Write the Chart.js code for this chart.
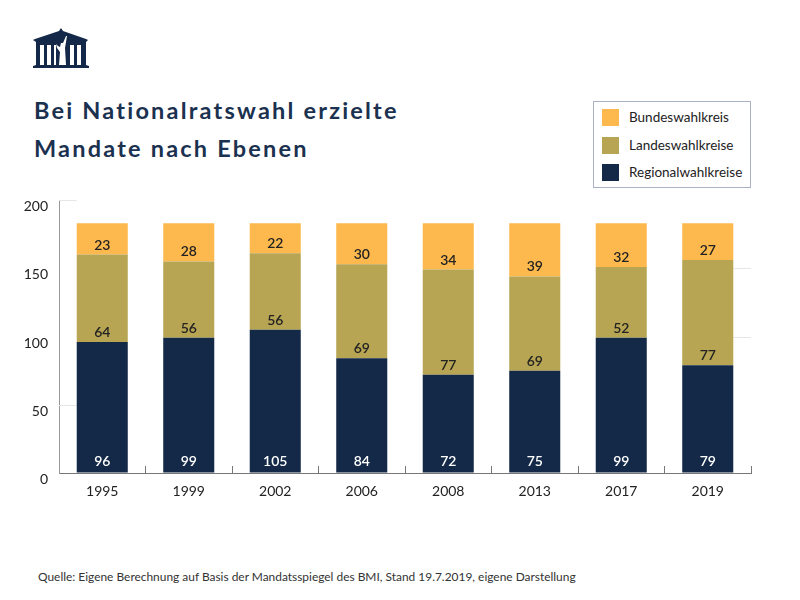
<!DOCTYPE html>
<html>
<head>
<meta charset="utf-8">
<script src="https://cdn.jsdelivr.net/npm/chart.js@4"></script>
<style>
  html, body { margin: 0; padding: 0; background: #fff; }
  body { position: relative; width: 800px; height: 600px; overflow: hidden; font-family: Lato, sans-serif; }
  #chart { position: absolute; left: 0; top: 0; }
  #logo { position: absolute; left: 33px; top: 28px; }
  #title {
    position: absolute; left: 34px; top: 91px; margin: 0;
    font-size: 23.5px; font-weight: 700; line-height: 38px; letter-spacing: 2.2px; color: #1b3150;
  }
  #legend {
    position: absolute; left: 593px; top: 101px; width: 156px; height: 85px;
    border: 1px solid #a9b2c6; background: #fff;
  }
  .item { position: absolute; left: 8px; height: 17px; font-size: 13.5px; line-height: 17px; color: #222; white-space: nowrap; }
  .item i { position: absolute; left: 0; top: 0; width: 17px; height: 17px; }
  .item span { position: absolute; left: 27px; top: 0; }
  #source { position: absolute; left: 38px; top: 569px; font-size: 11.93px; color: #333; }
</style>
</head>
<body>
<svg id="logo" width="56" height="41" viewBox="0 0 56 41">
  <path fill="#14294a" d="M28 0 L30 3 L53 11 L55 12 L53 14 L53 37 L56 38 L56 40 L0 40 L0 38 L3 37 L3 14 L0 12 L2 11 L26 3 Z"/>
  <path fill="#fff" d="M7 17h4v20h-4z M14 17h4v20h-4z M21 17h2v20h-2z M37 17h4v20h-4z M44 17h4v20h-4z"/>
  <path fill="#fff" d="M26 37 L27 24 L24 20 L23 16 L25 18 L27 19 L28 15 L30 15 L33 8 L34 8 L32 20 L33 37 Z"/>
</svg>
<h1 id="title">Bei Nationalratswahl erzielte<br>Mandate nach Ebenen</h1>
<div id="legend"></div>
<div id="source">Quelle: Eigene Berechnung auf Basis der Mandatsspiegel des BMI, Stand 19.7.2019, eigene Darstellung</div>
<canvas id="chart" width="800" height="600"></canvas>
<script>
const years = ["1995", "1999", "2002", "2006", "2008", "2013", "2017", "2019"];
const regional = [96, 99, 105, 84, 72, 75, 99, 79];
const landes = [64, 56, 56, 69, 77, 69, 52, 77];
const bundes = [23, 28, 22, 30, 34, 39, 32, 27];
const seriesNames = ["Regionalwahlkreise", "Landeswahlkreise", "Bundeswahlkreis"];
const seriesColors = ["#132947", "#b7a553", "#fdb94d"];
const labelColors = ["#ffffff", "#222222", "#222222"];
const labelOffsets = [11, 9.5, 9.5];
// the original only shows its grid lines in these two gaps
const leftGapGrid = [200, 50];
const rightGapGrid = [150, 100];

const partialGrid = {
  id: "partialGrid",
  beforeDatasetsDraw(chart) {
    const ctx = chart.ctx;
    const area = chart.chartArea;
    const yScale = chart.scales.y;
    const bars = chart.getDatasetMeta(0).data;
    const first = bars[0];
    const last = bars[bars.length - 1];
    const hline = (value, x1, x2) => {
      const y = Math.round(yScale.getPixelForValue(value)) + 0.5;
      ctx.beginPath();
      ctx.moveTo(x1, y);
      ctx.lineTo(x2, y);
      ctx.stroke();
    };
    ctx.save();
    ctx.strokeStyle = "#e6e6e6";
    ctx.lineWidth = 1;
    leftGapGrid.forEach((v) => hline(v, area.left, first.x - first.width / 2));
    rightGapGrid.forEach((v) => hline(v, last.x + last.width / 2, area.right));
    ctx.restore();
  },
};

// labels sit just above the base of each segment
const segmentLabels = {
  id: "segmentLabels",
  afterDatasetsDraw(chart) {
    const ctx = chart.ctx;
    ctx.save();
    ctx.font = "600 14px Lato, sans-serif";
    ctx.textAlign = "center";
    ctx.textBaseline = "middle";
    chart.data.datasets.forEach((ds, i) => {
      ctx.fillStyle = labelColors[i];
      chart.getDatasetMeta(i).data.forEach((bar, j) => {
        ctx.fillText(ds.data[j], bar.x, bar.base - labelOffsets[i]);
      });
    });
    ctx.restore();
  },
};

new Chart(document.getElementById("chart"), {
  type: "bar",
  data: {
    labels: years,
    datasets: [regional, landes, bundes].map((values, i) => ({
      label: seriesNames[i],
      data: values,
      backgroundColor: seriesColors[i],
      barPercentage: 0.59,
      categoryPercentage: 1,
    })),
  },
  options: {
    responsive: false,
    animation: false,
    layout: { padding: { top: 200, right: 49, bottom: 0, left: 0 } },
    plugins: {
      legend: { display: false },
      title: { display: false },
      tooltip: { enabled: false },
    },
    scales: {
      x: {
        stacked: true,
        afterFit: (scale) => { scale.height = 127; },
        grid: { drawOnChartArea: false, tickLength: -7, tickColor: "#777777" },
        border: { color: "#777777", width: 1 },
        ticks: {
          padding: 17,
          color: "#222222",
          maxRotation: 0,
          font: { family: "Lato, sans-serif", size: 14 },
        },
      },
      y: {
        stacked: true,
        min: 0,
        max: 200,
        afterFit: (scale) => { scale.width = 59; },
        grid: { drawOnChartArea: false, drawTicks: false },
        border: { color: "#999999", width: 1 },
        ticks: {
          stepSize: 50,
          padding: 11,
          color: "#222222",
          // blank first line pushes the number a little below its grid line
          callback: (value) => ["", String(value)],
          font: { family: "Lato, sans-serif", size: 14, lineHeight: 0.95 },
        },
      },
    },
  },
  plugins: [partialGrid, segmentLabels],
});

const legendBox = document.getElementById("legend");
[2, 1, 0].forEach((s, row) => {
  const item = document.createElement("div");
  item.className = "item";
  item.style.top = 7 + row * 27.5 + "px";
  item.innerHTML = '<i style="background:' + seriesColors[s] + '"></i><span>' + seriesNames[s] + "</span>";
  legendBox.appendChild(item);
});
</script>
</body>
</html>
